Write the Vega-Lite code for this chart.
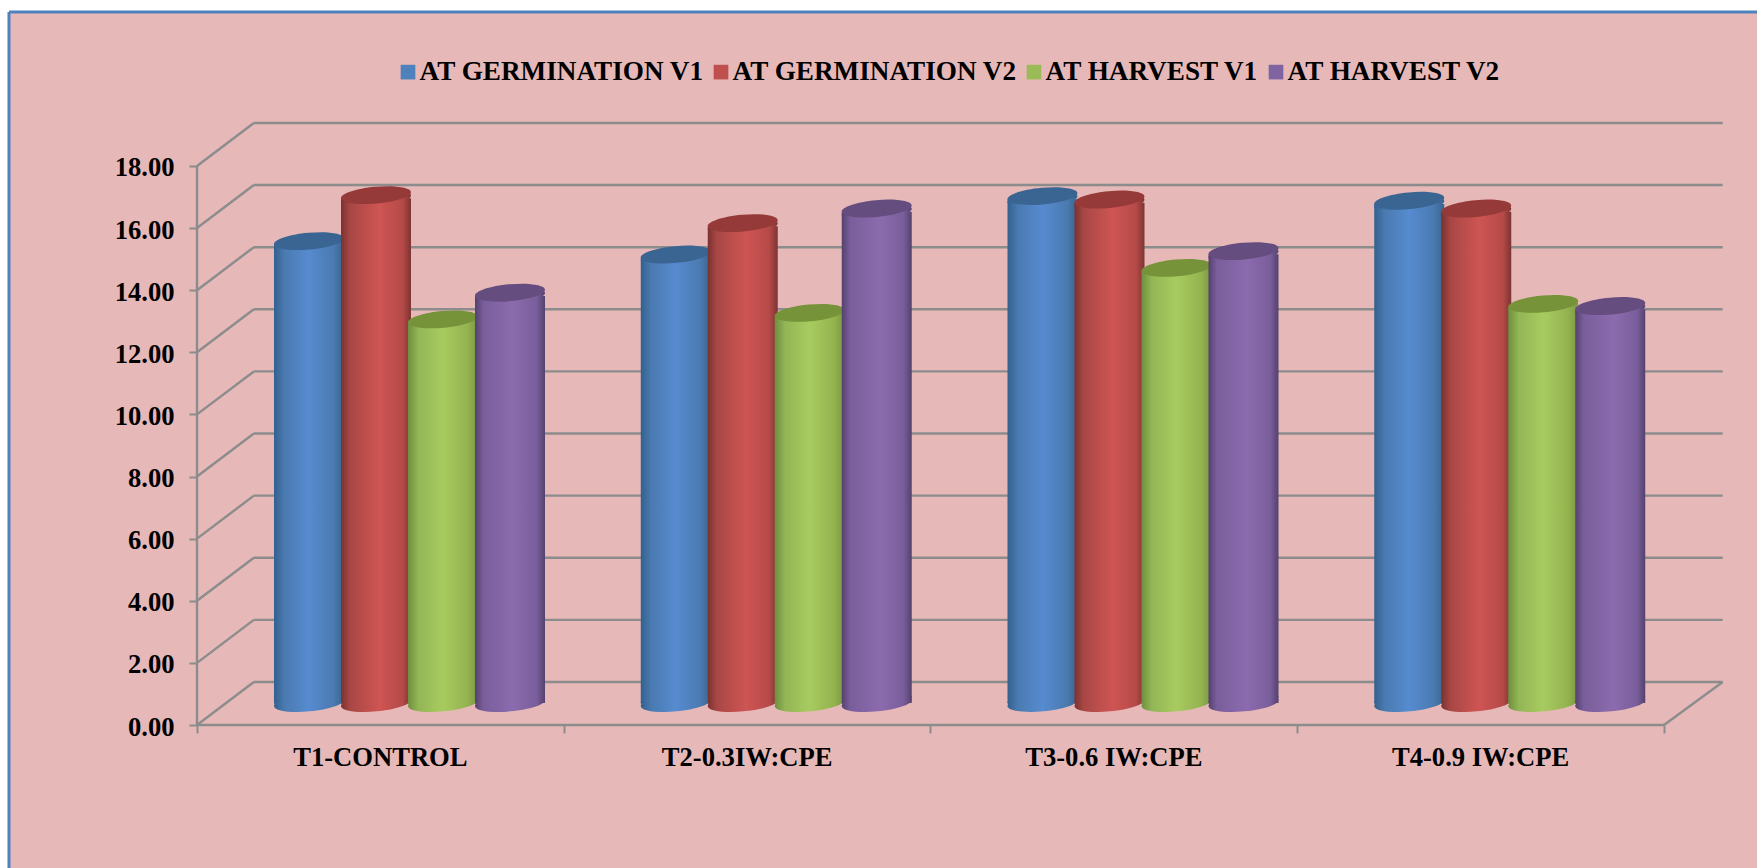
{
"$schema":"https://vega.github.io/schema/vega-lite/v6.json",
"width":1748,"height":856,
"padding":{"left":9,"top":12,"right":0,"bottom":0},
"autosize":{"type":"none"},
"background":"#ffffff",
"view":{"fill":"#E6B9B8","stroke":null},
"datasets":{
"scores":[
{"treatment":"T1-CONTROL","series":"AT GERMINATION V1","value":14.87},
{"treatment":"T1-CONTROL","series":"AT GERMINATION V2","value":16.35},
{"treatment":"T1-CONTROL","series":"AT HARVEST V1","value":12.35},
{"treatment":"T1-CONTROL","series":"AT HARVEST V2","value":13.21},
{"treatment":"T2-0.3IW:CPE","series":"AT GERMINATION V1","value":14.44},
{"treatment":"T2-0.3IW:CPE","series":"AT GERMINATION V2","value":15.45},
{"treatment":"T2-0.3IW:CPE","series":"AT HARVEST V1","value":12.56},
{"treatment":"T2-0.3IW:CPE","series":"AT HARVEST V2","value":15.92},
{"treatment":"T3-0.6 IW:CPE","series":"AT GERMINATION V1","value":16.32},
{"treatment":"T3-0.6 IW:CPE","series":"AT GERMINATION V2","value":16.21},
{"treatment":"T3-0.6 IW:CPE","series":"AT HARVEST V1","value":14.01},
{"treatment":"T3-0.6 IW:CPE","series":"AT HARVEST V2","value":14.55},
{"treatment":"T4-0.9 IW:CPE","series":"AT GERMINATION V1","value":16.17},
{"treatment":"T4-0.9 IW:CPE","series":"AT GERMINATION V2","value":15.92},
{"treatment":"T4-0.9 IW:CPE","series":"AT HARVEST V1","value":12.85},
{"treatment":"T4-0.9 IW:CPE","series":"AT HARVEST V2","value":12.78}
],
"wall":[
{"level":0,"back":1.384},{"level":2,"back":3.384},{"level":4,"back":5.384},{"level":6,"back":7.384},{"level":8,"back":9.384},
{"level":10,"back":11.384},{"level":12,"back":13.384},{"level":14,"back":15.384},{"level":16,"back":17.384},{"level":18,"back":19.384}
],
"frame":[{"part":"frame"}]
},
"resolve":{"scale":{"x":"independent","y":"independent"},"axis":{"x":"independent","y":"independent"}},
"layer":[
{
"layer":[
{"data":{"name":"frame"},"mark":{"type":"rule","color":"#4F81BD","strokeWidth":3},
 "encoding":{"x":{"datum":-0.5126,"type":"quantitative"},"y":{"datum":-4.604,"type":"quantitative"},"y2":{"datum":22.956}}},
{"data":{"name":"frame"},"mark":{"type":"rule","color":"#4F81BD","strokeWidth":3},
 "encoding":{"x":{"datum":-0.5126,"type":"quantitative"},"x2":{"datum":4.2536},"y":{"datum":22.956,"type":"quantitative"}}},
{"data":{"name":"wall"},"mark":{"type":"rule","color":"#8C8C8C","strokeWidth":2.4},
 "encoding":{"x":{"datum":0.155,"type":"quantitative"},"x2":{"datum":4.16},"y":{"field":"back","type":"quantitative"}}},
{"data":{"name":"wall"},"mark":{"type":"rule","color":"#8C8C8C","strokeWidth":2.4},
 "encoding":{"x":{"datum":0,"type":"quantitative"},"x2":{"datum":0.155},"y":{"field":"level","type":"quantitative"},"y2":{"field":"back"}}},
{"data":{"name":"frame"},"mark":{"type":"rule","color":"#8C8C8C","strokeWidth":2.4},
 "encoding":{"x":{"datum":4,"type":"quantitative"},"x2":{"datum":4.16},"y":{"datum":0,"type":"quantitative"},"y2":{"datum":1.384}}},
{"data":{"name":"frame"},"mark":{"type":"rule","color":"#8C8C8C","strokeWidth":2.4},
 "encoding":{"x":{"datum":0,"type":"quantitative"},"y":{"datum":0,"type":"quantitative"},"y2":{"datum":18}}},
{"data":{"name":"frame"},"mark":{"type":"rule","color":"#8C8C8C","strokeWidth":2.4},
 "encoding":{"x":{"datum":0,"type":"quantitative","scale":{"domain":[-0.5126,4.2536],"nice":false,"zero":false},
   "axis":{"orient":"bottom","offset":-143,"values":[0,1,2,3,4],"labels":false,"domain":false,"grid":false,"title":null,"tickSize":8,"tickColor":"#8C8C8C","tickWidth":2}},
  "x2":{"datum":4},
  "y":{"datum":0,"type":"quantitative","scale":{"domain":[-4.604,22.956],"nice":false,"zero":false},
   "axis":{"orient":"left","offset":-188,"values":[0,2,4,6,8,10,12,14,16,18],"format":".2f","domain":false,"grid":false,"title":null,"tickSize":8,"tickColor":"#8C8C8C","tickWidth":2,"labelPadding":15,"labelOffset":2,"labelFont":"Liberation Serif","labelFontSize":26.6,"labelFontWeight":"bold","labelColor":"#000000"}}}}
]
},
{
"data":{"name":"scores"},
"encoding":{
 "x":{"field":"treatment","type":"nominal","sort":null,
  "scale":{"paddingInner":0,"paddingOuter":0.3831,"align":0.669},
  "axis":{"orient":"bottom","offset":-143,"title":null,"ticks":false,"domain":false,"grid":false,"labelAngle":0,"labelPadding":19,"labelFont":"Liberation Serif","labelFontSize":26.6,"labelFontWeight":"bold","labelColor":"#000000","labelLimit":500}},
 "xOffset":{"field":"series","type":"nominal","sort":null,"scale":{"paddingInner":0,"paddingOuter":0.737,"align":0.795}},
 "y":{"field":"value","type":"quantitative","stack":null,"axis":null,"scale":{"domain":[-5.312,22.247],"nice":false,"zero":false}}
},
"layer":[
{"mark":{"type":"bar","width":60,"yOffset":8,"y2Offset":-8},
 "encoding":{"color":{"field":"series","type":"nominal","sort":null,
  "scale":{"domain":["AT GERMINATION V1","AT GERMINATION V2","AT HARVEST V1","AT HARVEST V2"],"range":["#4F81BD","#C0504D","#9BBB59","#8064A2"]},
  "legend":{"orient":"none","legendX":385.4,"legendY":46.4,"direction":"horizontal","columns":4,"title":null,"symbolType":"square","symbolSize":215,"symbolStrokeWidth":0,"labelFont":"Liberation Serif","labelFontSize":27.2,"labelFontWeight":"bold","labelColor":"#000000","labelLimit":500,"labelOffset":-2,"columnPadding":3,"padding":0}}}},
{"transform":[{"filter":"datum.series === 'AT GERMINATION V1'"}],
 "layer":[
  {"mark":{"type":"point","filled":true,"opacity":1,"strokeWidth":0,"size":4900,"shape":"M-1,.0904 C-1.0119,-.0417 -.5739,-.1891 -.0216,-.239 C.5307,-.2889 .9881,-.2225 1,-.0904 C1.0119,.0417 .5739,.1891 .0216,.239 C-.5307,.2889 -.9881,.2225 -1,.0904 Z","fill":{"x1":0,"y1":0,"x2":1,"y2":0,"gradient":"linear","stops":[{"offset":0,"color":"#33608F"},{"offset":0.15,"color":"#4A7AB0"},{"offset":0.5,"color":"#568BD0"},{"offset":0.85,"color":"#4A7AB0"},{"offset":1,"color":"#38648F"}]}},"encoding":{"y":{"datum":0,"type":"quantitative"}}},
  {"mark":{"type":"point","filled":true,"opacity":1,"strokeWidth":0,"size":4900,"yOffset":-3.2,"shape":"M-1,.0904 C-1.0119,-.0417 -.5739,-.1891 -.0216,-.239 C.5307,-.2889 .9881,-.2225 1,-.0904 C1.0119,.0417 .5739,.1891 .0216,.239 C-.5307,.2889 -.9881,.2225 -1,.0904 Z","fill":{"x1":0,"y1":0,"x2":1,"y2":0,"gradient":"linear","stops":[{"offset":0,"color":"#33608F"},{"offset":0.15,"color":"#4A7AB0"},{"offset":0.5,"color":"#568BD0"},{"offset":0.85,"color":"#4A7AB0"},{"offset":1,"color":"#38648F"}]}},"encoding":{"y":{"datum":0,"type":"quantitative"}}},
  {"mark":{"type":"bar","width":70,"yOffset":3.2,"y2Offset":-3.2,"fill":{"x1":0,"y1":0,"x2":1,"y2":0,"gradient":"linear","stops":[{"offset":0,"color":"#33608F"},{"offset":0.15,"color":"#4A7AB0"},{"offset":0.5,"color":"#568BD0"},{"offset":0.85,"color":"#4A7AB0"},{"offset":1,"color":"#38648F"}]}}},
  {"mark":{"type":"point","filled":true,"opacity":1,"strokeWidth":0,"size":4900,"yOffset":3.2,"shape":"M-1,.0904 C-1.0119,-.0417 -.5739,-.1891 -.0216,-.239 C.5307,-.2889 .9881,-.2225 1,-.0904 C1.0119,.0417 .5739,.1891 .0216,.239 C-.5307,.2889 -.9881,.2225 -1,.0904 Z","fill":{"x1":0,"y1":0,"x2":1,"y2":0,"gradient":"linear","stops":[{"offset":0,"color":"#33608F"},{"offset":0.15,"color":"#4A7AB0"},{"offset":0.5,"color":"#568BD0"},{"offset":0.85,"color":"#4A7AB0"},{"offset":1,"color":"#38648F"}]}}},
  {"mark":{"type":"point","filled":true,"opacity":1,"strokeWidth":0,"size":4900,"shape":"M-1,.0904 C-1.0119,-.0417 -.5739,-.1891 -.0216,-.239 C.5307,-.2889 .9881,-.2225 1,-.0904 C1.0119,.0417 .5739,.1891 .0216,.239 C-.5307,.2889 -.9881,.2225 -1,.0904 Z","fill":"#3A6593"}}
 ]},
{"transform":[{"filter":"datum.series === 'AT GERMINATION V2'"}],
 "layer":[
  {"mark":{"type":"point","filled":true,"opacity":1,"strokeWidth":0,"size":4900,"shape":"M-1,.0904 C-1.0119,-.0417 -.5739,-.1891 -.0216,-.239 C.5307,-.2889 .9881,-.2225 1,-.0904 C1.0119,.0417 .5739,.1891 .0216,.239 C-.5307,.2889 -.9881,.2225 -1,.0904 Z","fill":{"x1":0,"y1":0,"x2":1,"y2":0,"gradient":"linear","stops":[{"offset":0,"color":"#7A3230"},{"offset":0.13,"color":"#A84745"},{"offset":0.55,"color":"#CE5553"},{"offset":0.88,"color":"#B54A48"},{"offset":1,"color":"#7C3432"}]}},"encoding":{"y":{"datum":0,"type":"quantitative"}}},
  {"mark":{"type":"point","filled":true,"opacity":1,"strokeWidth":0,"size":4900,"yOffset":-3.2,"shape":"M-1,.0904 C-1.0119,-.0417 -.5739,-.1891 -.0216,-.239 C.5307,-.2889 .9881,-.2225 1,-.0904 C1.0119,.0417 .5739,.1891 .0216,.239 C-.5307,.2889 -.9881,.2225 -1,.0904 Z","fill":{"x1":0,"y1":0,"x2":1,"y2":0,"gradient":"linear","stops":[{"offset":0,"color":"#7A3230"},{"offset":0.13,"color":"#A84745"},{"offset":0.55,"color":"#CE5553"},{"offset":0.88,"color":"#B54A48"},{"offset":1,"color":"#7C3432"}]}},"encoding":{"y":{"datum":0,"type":"quantitative"}}},
  {"mark":{"type":"bar","width":70,"yOffset":3.2,"y2Offset":-3.2,"fill":{"x1":0,"y1":0,"x2":1,"y2":0,"gradient":"linear","stops":[{"offset":0,"color":"#7A3230"},{"offset":0.13,"color":"#A84745"},{"offset":0.55,"color":"#CE5553"},{"offset":0.88,"color":"#B54A48"},{"offset":1,"color":"#7C3432"}]}}},
  {"mark":{"type":"point","filled":true,"opacity":1,"strokeWidth":0,"size":4900,"yOffset":3.2,"shape":"M-1,.0904 C-1.0119,-.0417 -.5739,-.1891 -.0216,-.239 C.5307,-.2889 .9881,-.2225 1,-.0904 C1.0119,.0417 .5739,.1891 .0216,.239 C-.5307,.2889 -.9881,.2225 -1,.0904 Z","fill":{"x1":0,"y1":0,"x2":1,"y2":0,"gradient":"linear","stops":[{"offset":0,"color":"#7A3230"},{"offset":0.13,"color":"#A84745"},{"offset":0.55,"color":"#CE5553"},{"offset":0.88,"color":"#B54A48"},{"offset":1,"color":"#7C3432"}]}}},
  {"mark":{"type":"point","filled":true,"opacity":1,"strokeWidth":0,"size":4900,"shape":"M-1,.0904 C-1.0119,-.0417 -.5739,-.1891 -.0216,-.239 C.5307,-.2889 .9881,-.2225 1,-.0904 C1.0119,.0417 .5739,.1891 .0216,.239 C-.5307,.2889 -.9881,.2225 -1,.0904 Z","fill":"#953A38"}}
 ]},
{"transform":[{"filter":"datum.series === 'AT HARVEST V1'"}],
 "layer":[
  {"mark":{"type":"point","filled":true,"opacity":1,"strokeWidth":0,"size":4900,"shape":"M-1,.0904 C-1.0119,-.0417 -.5739,-.1891 -.0216,-.239 C.5307,-.2889 .9881,-.2225 1,-.0904 C1.0119,.0417 .5739,.1891 .0216,.239 C-.5307,.2889 -.9881,.2225 -1,.0904 Z","fill":{"x1":0,"y1":0,"x2":1,"y2":0,"gradient":"linear","stops":[{"offset":0,"color":"#6F8F3E"},{"offset":0.15,"color":"#93B656"},{"offset":0.5,"color":"#A8CB60"},{"offset":0.85,"color":"#93B34F"},{"offset":1,"color":"#7A9643"}]}},"encoding":{"y":{"datum":0,"type":"quantitative"}}},
  {"mark":{"type":"point","filled":true,"opacity":1,"strokeWidth":0,"size":4900,"yOffset":-3.2,"shape":"M-1,.0904 C-1.0119,-.0417 -.5739,-.1891 -.0216,-.239 C.5307,-.2889 .9881,-.2225 1,-.0904 C1.0119,.0417 .5739,.1891 .0216,.239 C-.5307,.2889 -.9881,.2225 -1,.0904 Z","fill":{"x1":0,"y1":0,"x2":1,"y2":0,"gradient":"linear","stops":[{"offset":0,"color":"#6F8F3E"},{"offset":0.15,"color":"#93B656"},{"offset":0.5,"color":"#A8CB60"},{"offset":0.85,"color":"#93B34F"},{"offset":1,"color":"#7A9643"}]}},"encoding":{"y":{"datum":0,"type":"quantitative"}}},
  {"mark":{"type":"bar","width":70,"yOffset":3.2,"y2Offset":-3.2,"fill":{"x1":0,"y1":0,"x2":1,"y2":0,"gradient":"linear","stops":[{"offset":0,"color":"#6F8F3E"},{"offset":0.15,"color":"#93B656"},{"offset":0.5,"color":"#A8CB60"},{"offset":0.85,"color":"#93B34F"},{"offset":1,"color":"#7A9643"}]}}},
  {"mark":{"type":"point","filled":true,"opacity":1,"strokeWidth":0,"size":4900,"yOffset":3.2,"shape":"M-1,.0904 C-1.0119,-.0417 -.5739,-.1891 -.0216,-.239 C.5307,-.2889 .9881,-.2225 1,-.0904 C1.0119,.0417 .5739,.1891 .0216,.239 C-.5307,.2889 -.9881,.2225 -1,.0904 Z","fill":{"x1":0,"y1":0,"x2":1,"y2":0,"gradient":"linear","stops":[{"offset":0,"color":"#6F8F3E"},{"offset":0.15,"color":"#93B656"},{"offset":0.5,"color":"#A8CB60"},{"offset":0.85,"color":"#93B34F"},{"offset":1,"color":"#7A9643"}]}}},
  {"mark":{"type":"point","filled":true,"opacity":1,"strokeWidth":0,"size":4900,"shape":"M-1,.0904 C-1.0119,-.0417 -.5739,-.1891 -.0216,-.239 C.5307,-.2889 .9881,-.2225 1,-.0904 C1.0119,.0417 .5739,.1891 .0216,.239 C-.5307,.2889 -.9881,.2225 -1,.0904 Z","fill":"#769339"}}
 ]},
{"transform":[{"filter":"datum.series === 'AT HARVEST V2'"}],
 "layer":[
  {"mark":{"type":"point","filled":true,"opacity":1,"strokeWidth":0,"size":4900,"shape":"M-1,.0904 C-1.0119,-.0417 -.5739,-.1891 -.0216,-.239 C.5307,-.2889 .9881,-.2225 1,-.0904 C1.0119,.0417 .5739,.1891 .0216,.239 C-.5307,.2889 -.9881,.2225 -1,.0904 Z","fill":{"x1":0,"y1":0,"x2":1,"y2":0,"gradient":"linear","stops":[{"offset":0,"color":"#54416E"},{"offset":0.12,"color":"#7A5E9B"},{"offset":0.55,"color":"#8B6BAE"},{"offset":0.88,"color":"#7A5E9B"},{"offset":1,"color":"#54416E"}]}},"encoding":{"y":{"datum":0,"type":"quantitative"}}},
  {"mark":{"type":"point","filled":true,"opacity":1,"strokeWidth":0,"size":4900,"yOffset":-3.2,"shape":"M-1,.0904 C-1.0119,-.0417 -.5739,-.1891 -.0216,-.239 C.5307,-.2889 .9881,-.2225 1,-.0904 C1.0119,.0417 .5739,.1891 .0216,.239 C-.5307,.2889 -.9881,.2225 -1,.0904 Z","fill":{"x1":0,"y1":0,"x2":1,"y2":0,"gradient":"linear","stops":[{"offset":0,"color":"#54416E"},{"offset":0.12,"color":"#7A5E9B"},{"offset":0.55,"color":"#8B6BAE"},{"offset":0.88,"color":"#7A5E9B"},{"offset":1,"color":"#54416E"}]}},"encoding":{"y":{"datum":0,"type":"quantitative"}}},
  {"mark":{"type":"bar","width":70,"yOffset":3.2,"y2Offset":-3.2,"fill":{"x1":0,"y1":0,"x2":1,"y2":0,"gradient":"linear","stops":[{"offset":0,"color":"#54416E"},{"offset":0.12,"color":"#7A5E9B"},{"offset":0.55,"color":"#8B6BAE"},{"offset":0.88,"color":"#7A5E9B"},{"offset":1,"color":"#54416E"}]}}},
  {"mark":{"type":"point","filled":true,"opacity":1,"strokeWidth":0,"size":4900,"yOffset":3.2,"shape":"M-1,.0904 C-1.0119,-.0417 -.5739,-.1891 -.0216,-.239 C.5307,-.2889 .9881,-.2225 1,-.0904 C1.0119,.0417 .5739,.1891 .0216,.239 C-.5307,.2889 -.9881,.2225 -1,.0904 Z","fill":{"x1":0,"y1":0,"x2":1,"y2":0,"gradient":"linear","stops":[{"offset":0,"color":"#54416E"},{"offset":0.12,"color":"#7A5E9B"},{"offset":0.55,"color":"#8B6BAE"},{"offset":0.88,"color":"#7A5E9B"},{"offset":1,"color":"#54416E"}]}}},
  {"mark":{"type":"point","filled":true,"opacity":1,"strokeWidth":0,"size":4900,"shape":"M-1,.0904 C-1.0119,-.0417 -.5739,-.1891 -.0216,-.239 C.5307,-.2889 .9881,-.2225 1,-.0904 C1.0119,.0417 .5739,.1891 .0216,.239 C-.5307,.2889 -.9881,.2225 -1,.0904 Z","fill":"#664D7F"}}
 ]}
]
}
]
}
